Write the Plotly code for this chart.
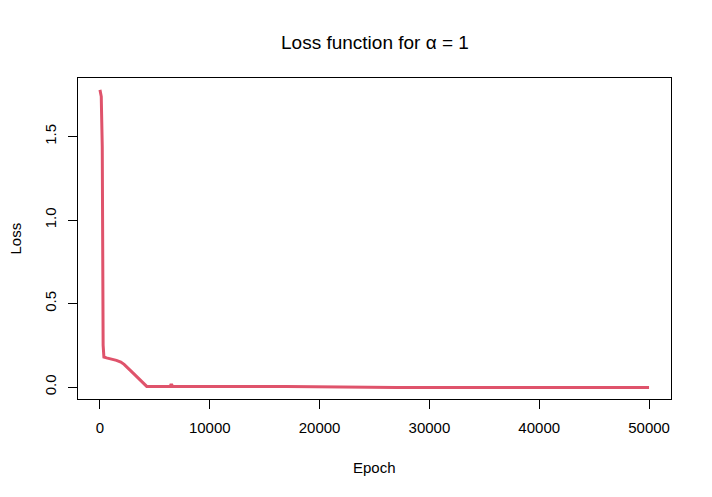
import plotly.graph_objects as go

# loss curve (epoch, loss)
epoch = [1, 120, 130, 200, 210, 290, 300, 350, 360, 600, 1000, 1500, 1900, 2200,
         3000, 4260, 6400, 6450, 6550, 6600, 17000, 20000, 26000, 27000, 50000]
loss = [1.78, 1.74, 1.70, 1.50, 1.44, 0.25, 0.24, 0.19, 0.18, 0.175, 0.17, 0.16,
        0.15, 0.136, 0.085, 0.004, 0.004, 0.012, 0.012, 0.004, 0.004, 0.002,
        0.002, -0.002, -0.002]

x_ticks = [0, 10000, 20000, 30000, 40000, 50000]
y_ticks = [0.0, 0.5, 1.0, 1.5]
y_ticktext = ["0.0", "0.5", "1.0", "1.5"]

W, H = 712, 497
font = dict(family="Liberation Sans, Arial, sans-serif", size=15, color="black")

fig = go.Figure()
fig.add_trace(go.Scatter(x=epoch, y=loss, mode="lines",
                         line=dict(color="#DF536B", width=3)))

axis_common = dict(showgrid=False, zeroline=False, showline=True, mirror=True,
                   linecolor="black", linewidth=1, ticks="outside", ticklen=9,
                   tickcolor="black", tickwidth=1, tickfont=font)

fig.update_xaxes(range=[-1999, 51999], tickvals=x_ticks,
                 ticktext=[str(v) for v in x_ticks], ticklabelstandoff=6,
                 **axis_common)
fig.update_yaxes(range=[-0.0712, 1.8512], tickvals=y_ticks, ticktext=y_ticktext,
                 tickangle=-90, ticklabelstandoff=6, **axis_common)

# page body has an 8px default margin, so pull the margins in to compensate
fig.update_layout(
    width=W, height=H,
    margin=dict(l=70, r=49, t=70, b=106),
    plot_bgcolor="white", paper_bgcolor="white",
    showlegend=False,
    font=font,
    annotations=[
        dict(text="Loss function for α = 1", xref="paper", yref="paper",
             x=0.5, y=1, yshift=36, showarrow=False, yanchor="middle",
             font=dict(family=font["family"], size=19, color="black")),
        dict(text="Epoch", xref="paper", yref="paper", x=0.5, y=0,
             yshift=-68, showarrow=False, yanchor="middle", font=font),
        dict(text="Loss", xref="paper", yref="paper", x=0, y=0.5,
             xshift=-63, showarrow=False, xanchor="center", textangle=-90,
             font=font),
    ],
)

fig.write_html("out.html")
